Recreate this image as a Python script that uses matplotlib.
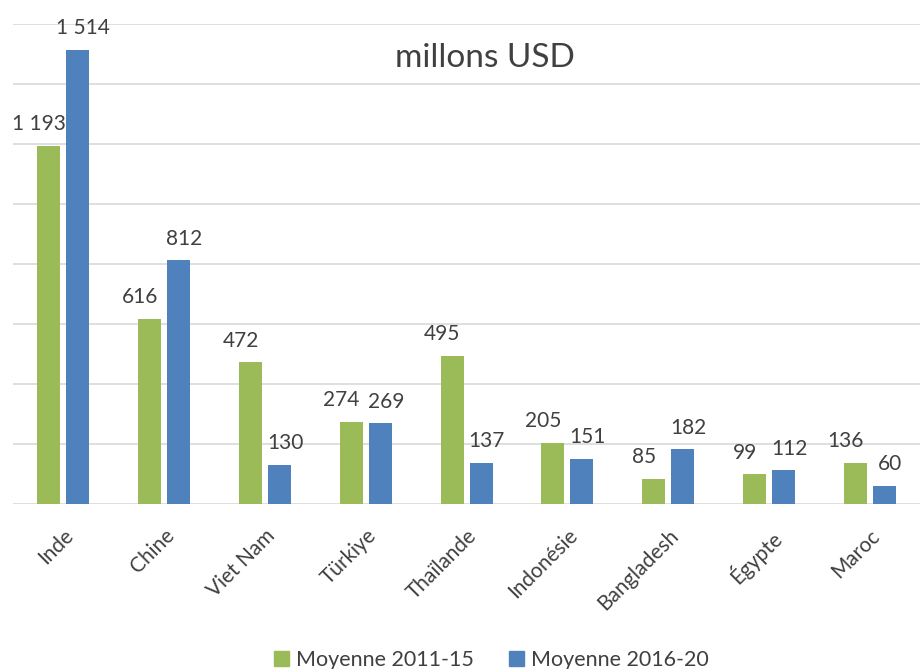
import matplotlib.pyplot as plt
import numpy as np
from matplotlib.patches import Patch

plt.rcParams['font.family'] = ['Lato', 'DejaVu Sans']

countries = ["Inde", "Chine", "Viet Nam", "Türkiye", "Thaïlande",
             "Indonésie", "Bangladesh", "Égypte", "Maroc"]
avg_2011_15 = [1193, 616, 472, 274, 495, 205, 85, 99, 136]
avg_2016_20 = [1514, 812, 130, 269, 137, 151, 182, 112, 60]
series_names = ["Moyenne 2011-15", "Moyenne 2016-20"]

GREEN = "#9BBB59"
BLUE = "#4F81BD"
TEXT = "#404040"


def fmt(v):
    # french thousands separator
    return f"{v:,}".replace(",", " ")


fig = plt.figure(figsize=(9.22, 6.69), dpi=100)
ax = fig.add_axes([0.014, 0.2466, 0.984, 0.7174])

x = np.arange(len(countries))
w = 0.228
gap = 0.06
b1 = ax.bar(x - (w + gap) / 2, avg_2011_15, w, color=GREEN, zorder=3)
b2 = ax.bar(x + (w + gap) / 2, avg_2016_20, w, color=BLUE, zorder=3)

# labels nudged apart like excel does
for bars, vals, dx in ((b1, avg_2011_15, -7), (b2, avg_2016_20, 4)):
    for rect, v in zip(bars, vals):
        ax.annotate(fmt(v), (rect.get_x() + rect.get_width() / 2, v),
                    xytext=(dx, 8.5), textcoords="offset points",
                    ha="center", va="bottom", fontsize=15, color=TEXT)

ax.set_xlim(-0.5, len(countries) - 0.5)
ax.set_ylim(0, 1600)
ax.set_yticks(np.arange(0, 1601, 200))
ax.yaxis.grid(True, color="#D9D9D9", linewidth=1.2, zorder=0)
ax.tick_params(axis="y", left=False, labelleft=False)
ax.tick_params(axis="x", bottom=False, pad=12)
ax.set_xticks(x)
ax.set_xticklabels(countries, rotation=45, ha="right", rotation_mode="anchor",
                   fontsize=15, color=TEXT)
for s in ax.spines.values():
    s.set_visible(False)

ax.text(0.52, 0.93, "millons USD", transform=ax.transAxes, ha="center",
        va="center", fontsize=24, color=TEXT)

handles = [Patch(color=GREEN), Patch(color=BLUE)]
fig.legend(handles, series_names, loc="lower center", ncol=2, frameon=False,
           fontsize=15.5, handlelength=0.7, handleheight=0.7, columnspacing=1.6,
           handletextpad=0.35, labelcolor=TEXT, bbox_to_anchor=(0.533, -0.03))

fig.savefig("out.png", dpi=100)
